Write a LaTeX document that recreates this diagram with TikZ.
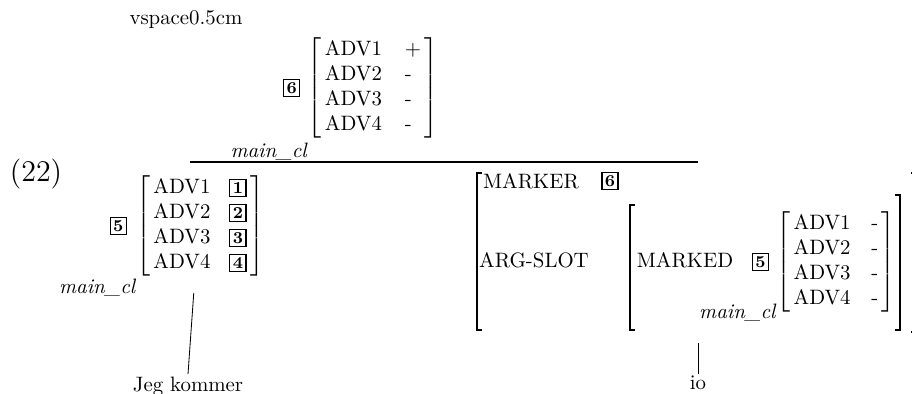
\documentclass[tikz,border=0pt]{standalone}
\usetikzlibrary{positioning}

\setlength{\fboxsep}{1.1pt}
\setlength{\fboxrule}{0.6pt}
\newcommand{\tagbox}[1]{\fbox{\footnotesize\bfseries #1}}
\newcommand{\advavm}[5]{$\left[\begin{array}{@{\,}l@{\hspace{#1}}l@{\,}}
  \mbox{ADV1} & \mbox{#2}\\ \mbox{ADV2} & \mbox{#3}\\
  \mbox{ADV3} & \mbox{#4}\\ \mbox{ADV4} & \mbox{#5}
\end{array}\right]$}
\newcommand{\brkL}[3]{\draw[brk] (#1+5,#2) -- (#1,#2) -- (#1,#3) -- (#1+5,#3);}
\newcommand{\brkR}[3]{\draw[brk] (#1-5,#2) -- (#1,#2) -- (#1,#3) -- (#1-5,#3);}

\tikzset{
  avm/.style={inner sep=0pt},
  tagnode/.style={inner sep=0pt},
  sortlbl/.style={font=\itshape, inner sep=0pt},
  brk/.style={line width=0.5pt},
  word/.style={inner sep=1pt},
}

\begin{document}
\begin{tikzpicture}[x=0.48pt,y=-0.48pt]
    \useasboundingbox (0,0) rectangle (912,394);

    % Mutterknoten
    \node (vsp) at (186,20) {vspace0.5cm};
    \node[avm] (mother) at (373,88) {\advavm{11pt}{+}{-}{-}{-}};
    \node[tagnode, left=3pt of mother] (mtag) {\tagbox{6}};
    \node[sortlbl, anchor=north east] (msort) at ([yshift=-2pt]mother.south west) {main\_cl};
    \coordinate (ruleL) at (190,162);
    \coordinate (ruleR) at (698,162);
    \draw[semithick] (ruleL) -- (ruleR);

    \node (exno) at (36,174) {\Large (22)};

    % linke Tochter
    \node[avm] (ldtr) at (200,226) {\advavm{9pt}{\tagbox{1}}{\tagbox{2}}{\tagbox{3}}{\tagbox{4}}};
    \node[tagnode, left=4pt of ldtr] (ltag) {\tagbox{5}};
    \node[sortlbl, anchor=north east] (lsort) at ([yshift=-1pt]ldtr.south west) {main\_cl};
    \node[word] (jeg) at (188,386) {Jeg kommer};
    \draw ([xshift=-3pt,yshift=-8pt]ldtr.south) -- (jeg.north);

    % rechte Tochter
    \node[avm] (radv) at (836,262) {\advavm{10pt}{-}{-}{-}{-}};
    \node[tagnode, left=3pt of radv] (rtag5) {\tagbox{5}};
    \node[sortlbl, anchor=east] (rsort) at (radv.south west) {main\_cl};
    \node (marked) at (685,260) {MARKED};
    \node (argslot) at (534,260) {ARG-SLOT};
    \node (marker) at (531,181) {MARKER};
    \node[tagnode] (rtag6) at (610,181) {\tagbox{6}};
    \brkL{630}{205}{330} \brkR{900}{195}{330}
    \brkL{477}{173}{330} \brkR{916}{173}{332}
    \coordinate (rdtr) at (698,343);
    \node[word] (io) at (698,383) {io};
    \draw (rdtr) -- (io.north);
\end{tikzpicture}
\end{document}
